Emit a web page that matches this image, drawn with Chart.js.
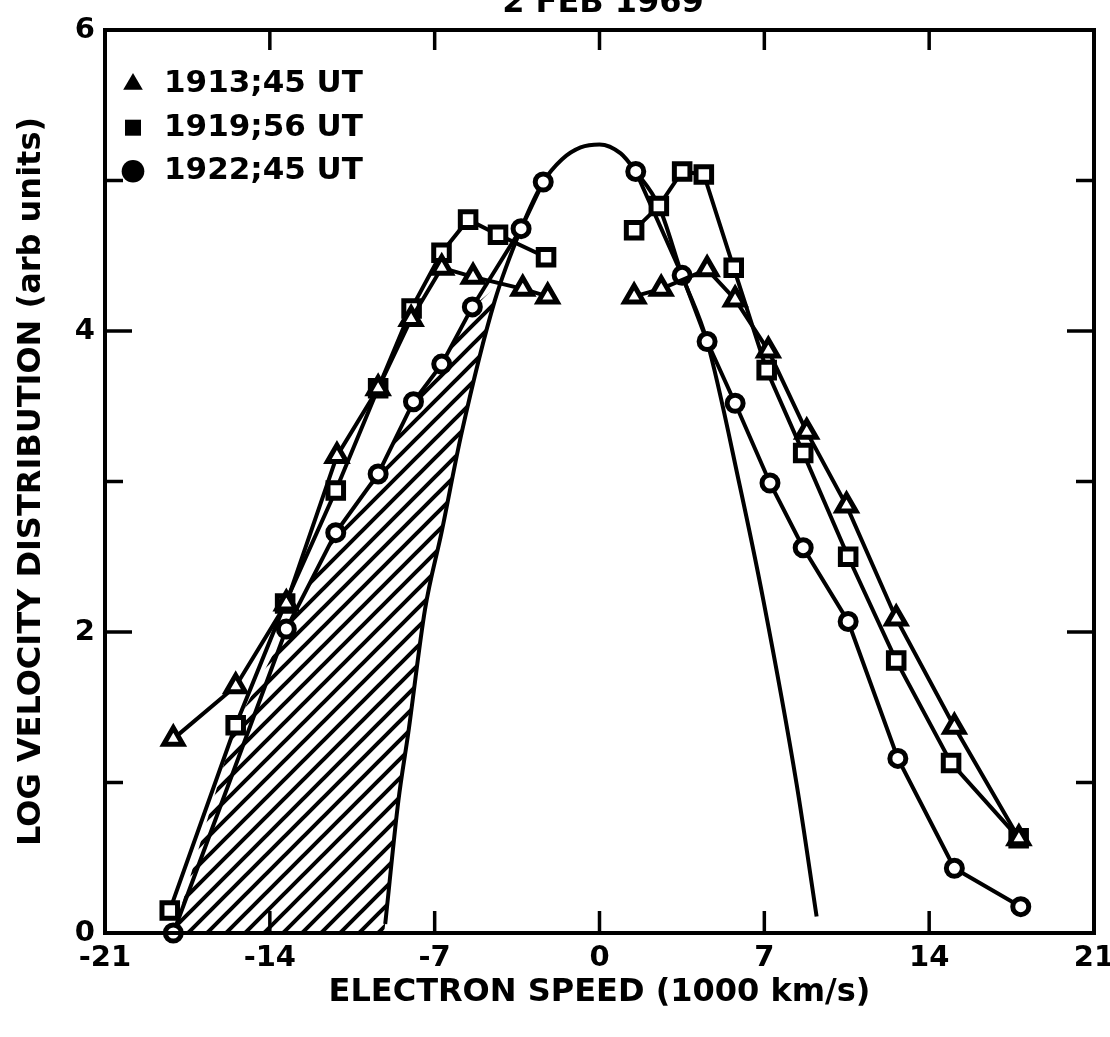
<!DOCTYPE html>
<html><head><meta charset="utf-8">
<script src="https://cdn.jsdelivr.net/npm/chart.js@4/dist/chart.umd.min.js"></script>
<style>
html,body{margin:0;padding:0;background:#fff;overflow:hidden;width:1110px;height:1037px;}
#wrap{position:absolute;left:0;top:0;width:1110px;height:1037px;}
#title{position:absolute;top:-15px;left:403px;width:400px;text-align:center;font:bold 32px "DejaVu Sans","Liberation Sans",sans-serif;line-height:32px;color:#000;white-space:nowrap;z-index:2;}
</style></head><body>
<div id="wrap"><canvas id="c" width="1110" height="1037"></canvas></div>
<div id="title"></div>
<script>
// ---- text ----
const chartTitle = '2 FEB 1969';
const xAxisTitle = 'ELECTRON SPEED (1000 km/s)';
const yAxisTitle = 'LOG VELOCITY DISTRIBUTION (arb units)';
const seriesNames = ['1913;45 UT', '1919;56 UT', '1922;45 UT'];
const xTickValues = [-21, -14, -7, 0, 7, 14, 21];
const yTickLabels = ['0', '', '2', '', '4', '', '6'];

// ---- data (x: 1000 km/s, y: log distribution); null = break in line ----
const tri_x = [-18.1, -15.45, -13.3, -11.15, -9.4, -8.0, -6.7, -5.37, -3.26, -2.2, 0, 1.47, 2.62, 4.57, 5.76, 7.17, 8.8, 10.49, 12.6, 15.07, 17.81];
const tri_y = [1.29, 1.64, 2.19, 3.17, 3.62, 4.08, 4.42, 4.36, 4.28, 4.23, null, 4.23, 4.28, 4.41, 4.21, 3.87, 3.33, 2.84, 2.09, 1.37, 0.63];

const sq_x = [-18.25, -15.45, -13.35, -11.2, -9.4, -7.98, -6.71, -5.58, -4.31, -2.27, 0, 1.47, 2.52, 3.51, 4.43, 5.7, 7.1, 8.65, 10.56, 12.6, 14.93, 17.8];
const sq_y = [0.15, 1.38, 2.19, 2.94, 3.62, 4.15, 4.52, 4.74, 4.64, 4.49, null, 4.67, 4.83, 5.06, 5.04, 4.42, 3.74, 3.19, 2.50, 1.81, 1.13, 0.63];

const circ_x = [-18.1, -13.3, -11.2, -9.4, -7.9, -6.7, -5.4, -3.33, -2.39, 0, 1.54, 3.51, 4.57, 5.76, 7.24, 8.65, 10.56, 12.67, 15.07, 17.89];
const circ_y = [0.0, 2.02, 2.66, 3.05, 3.53, 3.78, 4.16, 4.68, 4.99, null, 5.06, 4.37, 3.93, 3.52, 2.99, 2.56, 2.07, 1.16, 0.43, 0.175];

const maxw_x = [-9.1, -8.54, -8.12, -7.41, -6.71, -5.86, -4.45, -3.33, -2.39, -1.6, -0.8, 0, 0.9, 1.54, 2.52, 3.51, 4.57, 5.96, 6.96, 8.37, 9.22];
const maxw_y = [0.06, 0.88, 1.33, 2.15, 2.66, 3.32, 4.2, 4.68, 4.99, 5.14, 5.22, 5.24, 5.18, 5.06, 4.83, 4.37, 3.93, 2.97, 2.21, 0.99, 0.11];

const hatch_x = [-18.1, -15.45, -13.3, -11.2, -9.4, -7.9, -6.7, -5.4, -4.4, -4.45, -5.86, -6.71, -7.41, -8.12, -8.54, -9.1, -9.15];
const hatch_y = [0.0, 1.38, 2.02, 2.66, 3.05, 3.53, 3.78, 4.16, 4.29, 4.2, 3.32, 2.66, 2.15, 1.33, 0.88, 0.06, 0.0];

document.getElementById('title').textContent = chartTitle;

function pts(xs, ys) { return xs.map((x, i) => ({ x: x, y: ys[i] })); }

// hatch pattern
function makeHatch() {
  const s = 19, c = document.createElement('canvas');
  c.width = s; c.height = s;
  const g = c.getContext('2d');
  g.fillStyle = '#fff'; g.fillRect(0, 0, s, s);
  g.strokeStyle = '#000'; g.lineWidth = 4; g.lineCap = 'square';
  g.beginPath();
  g.moveTo(-2, s + 2); g.lineTo(s + 2, -2);
  g.moveTo(-2, 2); g.lineTo(2, -2);
  g.moveTo(s - 2, s + 2); g.lineTo(s + 2, s - 2);
  g.stroke();
  return g.createPattern(c, 'repeat');
}

const FONT = '"DejaVu Sans", "Liberation Sans", sans-serif';

const framePlugin = {
  id: 'frame',
  afterDatasetsDraw(chart) {
    const { ctx, chartArea: a, scales } = chart;
    const x = scales.x, y = scales.y;
    ctx.save();
    ctx.strokeStyle = '#000';
    ctx.lineWidth = 4;
    ctx.strokeRect(a.left, a.top, a.right - a.left, a.bottom - a.top);
    ctx.lineWidth = 3.5;
    const seg = (x1, y1, x2, y2) => { ctx.beginPath(); ctx.moveTo(x1, y1); ctx.lineTo(x2, y2); ctx.stroke(); };
    x.ticks.forEach(t => {
      if (t.value <= -21 || t.value >= 21) return;
      const px = x.getPixelForValue(t.value);
      seg(px, a.bottom, px, a.bottom - 22);
      seg(px, a.top, px, a.top + 20);
    });
    y.ticks.forEach(t => {
      if (t.value <= 0 || t.value >= 6) return;
      const py = y.getPixelForValue(t.value);
      const L = (t.value % 2 === 0) ? 27 : 18;
      seg(a.left, py, a.left + L, py);
      seg(a.right, py, a.right - L, py);
    });
    ctx.restore();
  }
};

const common = { borderColor: '#000', borderWidth: 4, backgroundColor: '#fff', pointBorderColor: '#000', pointBackgroundColor: '#fff', pointBorderWidth: 5, clip: false, tension: 0, fill: false };

new Chart(document.getElementById('c'), {
  type: 'line',
  data: {
    datasets: [
      Object.assign({}, common, { label: seriesNames[0], data: pts(tri_x, tri_y), pointStyle: 'triangle', pointRadius: 11, order: 1 }),
      Object.assign({}, common, { label: seriesNames[1], data: pts(sq_x, sq_y), pointStyle: 'rect', pointRadius: 11, order: 2 }),
      Object.assign({}, common, { label: seriesNames[2], data: pts(circ_x, circ_y), pointStyle: 'circle', pointRadius: 8, order: 3 }),
      { label: 'Maxwellian', data: pts(maxw_x, maxw_y), borderColor: '#000', borderWidth: 4, pointRadius: 0, cubicInterpolationMode: 'monotone', fill: false, order: 4 },
      { label: 'hatch', data: pts(hatch_x, hatch_y), borderWidth: 0, borderColor: 'rgba(0,0,0,0)', pointRadius: 0, backgroundColor: makeHatch(), fill: 'shape', tension: 0, order: 10 }
    ]
  },
  options: {
    responsive: false,
    animation: false,
    devicePixelRatio: 1,
    layout: { padding: { top: 30, right: 13, left: 0, bottom: 0 } },
    plugins: {
      tooltip: { enabled: false },
      title: { display: false },
      legend: {
        position: 'chartArea',
        align: 'start',
        title: { display: true, text: ' ', font: { size: 1 }, padding: { top: 55, bottom: 0 } },
        labels: {
          usePointStyle: true,
          boxHeight: 16,
          padding: 12.5,
          color: '#000',
          font: { family: FONT, size: 31, weight: 'bold' },
          generateLabels(chart) {
            const items = Chart.defaults.plugins.legend.labels.generateLabels(chart);
            return items.filter(i => i.datasetIndex < 3).map(i => Object.assign(i, { fillStyle: '#000', strokeStyle: '#000', lineWidth: 0 }));
          }
        }
      }
    },
    scales: {
      x: {
        type: 'linear', min: -21, max: 21,
        afterBuildTicks(scale) { scale.ticks = xTickValues.map(v => ({ value: v })); },
        afterFit(scale) { scale.height = 104; scale.paddingLeft = 0; scale.paddingRight = 0; },
        grid: { display: false, drawTicks: false },
        border: { display: false },
        ticks: { color: '#000', padding: 8, autoSkip: false, maxRotation: 0, font: { family: FONT, size: 29, weight: 'bold' }, callback: v => String(v) },
        title: { display: true, text: xAxisTitle, color: '#000', font: { family: FONT, size: 32, weight: 'bold' }, padding: { top: 0, bottom: 25 } }
      },
      y: {
        type: 'linear', min: 0, max: 6,
        afterFit(scale) { scale.width = 105; scale.paddingTop = 0; scale.paddingBottom = 0; },
        grid: { display: false, drawTicks: false },
        border: { display: false },
        ticks: { color: '#000', padding: 10, stepSize: 1, autoSkip: false, font: { family: FONT, size: 29, weight: 'bold' }, callback: v => yTickLabels[v] || '' },
        title: { display: true, text: yAxisTitle, color: '#000', font: { family: FONT, size: 32, weight: 'bold' }, padding: { top: 12, bottom: 0 } }
      }
    }
  },
  plugins: [framePlugin]
});
</script>
</body></html>
